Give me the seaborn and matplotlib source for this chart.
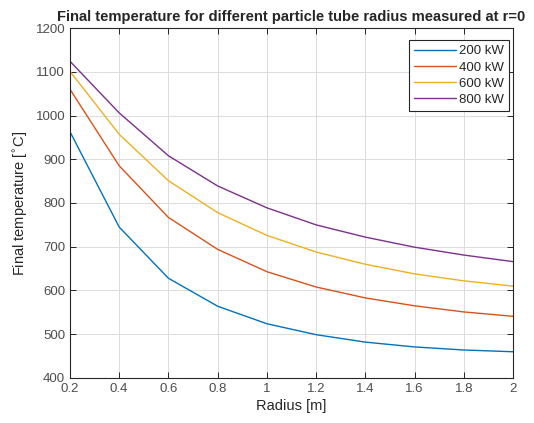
import numpy as np
import pandas as pd
import matplotlib
matplotlib.use("Agg")
import matplotlib.pyplot as plt
import seaborn as sns

radius = [0.2, 0.4, 0.6, 0.8, 1.0, 1.2, 1.4, 1.6, 1.8, 2.0]
t200 = [963, 745, 628, 564, 524, 499, 482, 471, 464, 460]
t400 = [1060, 885, 767, 694, 643, 608, 583, 565, 551, 541]
t600 = [1101, 957, 851, 778, 726, 688, 660, 638, 622, 610]
t800 = [1124, 1006, 908, 839, 789, 750, 722, 699, 681, 666]
labels = ["200 kW", "400 kW", "600 kW", "800 kW"]
colors = ["#0072BD", "#D95319", "#EDB120", "#7E2F8E"]

df = pd.DataFrame({
    "Radius": radius * 4,
    "Temp": t200 + t400 + t600 + t800,
    "Power": sum([[l] * len(radius) for l in labels], []),
})

sns.set_style("white")
plt.rcParams["font.family"] = ["Liberation Sans", "DejaVu Sans"]

fig = plt.figure(figsize=(5.34, 4.23), dpi=100)
ax = fig.add_axes([0.131, 0.1064, 0.8297, 0.8274])
sns.lineplot(data=df, x="Radius", y="Temp", hue="Power", palette=colors,
             linewidth=1.0, ax=ax)

ax.set_xlim(0.2, 2.0)
ax.set_ylim(400, 1200)
ax.set_xticks(radius)
ax.set_xticklabels(["0.2", "0.4", "0.6", "0.8", "1", "1.2", "1.4", "1.6", "1.8", "2"])
ax.set_yticks(range(400, 1201, 100))
ax.grid(True, color="#dcdcdc", linewidth=0.7)
ax.tick_params(direction="in", length=4, width=0.7, colors="#262626",
               labelsize=9.5, top=True, right=True, bottom=True, left=True,
               labelcolor="#4d4d4d")
for s in ax.spines.values():
    s.set_color("#262626")
    s.set_linewidth(0.8)
ax.set_xlabel("Radius [m]", fontsize=10.5, color="#262626", labelpad=3)
ax.set_ylabel("Final temperature [$^{\\circ}$C]", fontsize=10.5, color="#262626")
ax.set_title("Final temperature for different particle tube radius measured at r=0",
             fontsize=10.6, fontweight="bold", pad=5)
leg = ax.legend(loc="upper right", bbox_to_anchor=(0.991, 0.966), fontsize=9.5,
                frameon=True, fancybox=False, edgecolor="#262626", framealpha=1,
                handlelength=3.2, borderaxespad=0.0, labelspacing=0.3,
                handletextpad=0.2, borderpad=0.4)
leg.get_frame().set_linewidth(0.8)
fig.savefig("out.png", dpi=100)
